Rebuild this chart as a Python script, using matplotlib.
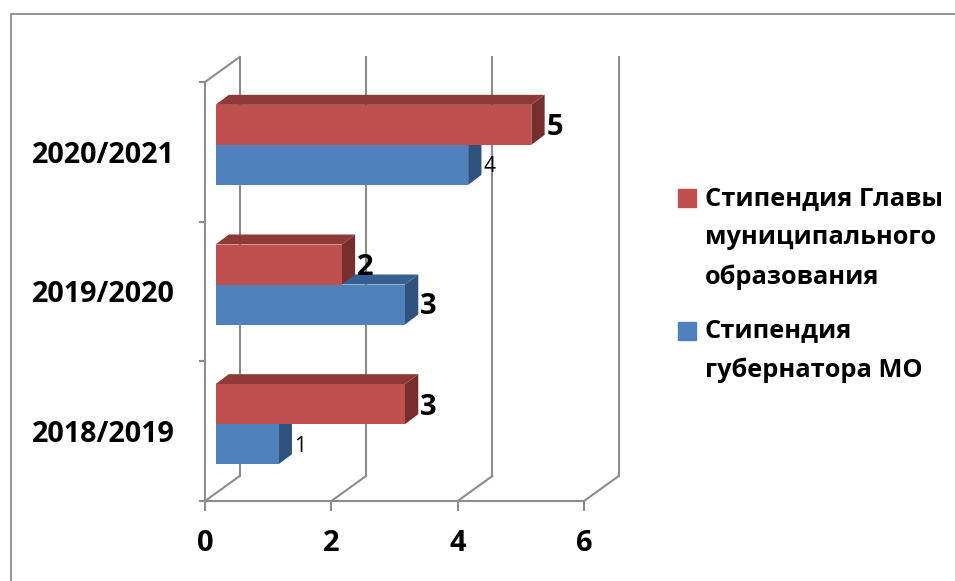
import matplotlib
matplotlib.use("Agg")
import matplotlib.pyplot as plt
from matplotlib.patches import Patch, Rectangle
from matplotlib.legend_handler import HandlerPatch
from matplotlib.transforms import Affine2D
from matplotlib.lines import Line2D

plt.rcParams['font.family'] = ['Open Sans', 'DejaVu Sans']

categories = ['2018/2019', '2019/2020', '2020/2021']
governor = [1, 3, 4]
head = [3, 2, 5]
series_names = ['Стипендия Главы\nмуниципального\nобразования', 'Стипендия\nгубернатора МО']
x_ticks = [0, 2, 4, 6]
GRID = '#8c8c8c'
RED, RED_TOP, RED_SIDE = '#c0504d', '#8e3a38', '#772e2c'
BLUE, BLUE_TOP, BLUE_SIDE = '#4f81bd', '#365f91', '#30527f'

W, H = 955, 581
fig = plt.figure(figsize=(W / 100, H / 100), dpi=100)
ax = fig.add_axes([205 / W, (H - 501) / H, 379 / W, 419 / H])
ax.set_xlim(0, 6)
ax.set_ylim(0, 3)
ax.patch.set_alpha(0)

# outer frame of the picture
for xs, ys in [((10.5, 955), (14, 14)), ((10.5, 10.5), (14, 581))]:
    fig.add_artist(Line2D([x / W for x in xs], [1 - y / H for y in ys], color='#8c8c8c', lw=1.3))

wall = ax.transData + Affine2D().translate(34.7, 25)
bar_front = ax.transData + Affine2D().translate(10.5, 7)
dx, dy = 13.3, 10

# back wall and floor
for t in x_ticks:
    ax.plot([t, t], [0, 3], color=GRID, lw=1.5, transform=wall, clip_on=False, zorder=1)
    a = ax.transData.transform((t, 0))
    ax.add_line(Line2D([a[0], a[0] + 34.7], [a[1], a[1] + 25], color=GRID, lw=1.5,
                       transform=None, zorder=1, clip_on=False))
a = ax.transData.transform((0, 3))
ax.add_line(Line2D([a[0], a[0] + 34.7], [a[1], a[1] + 25], color=GRID, lw=1.5,
                   transform=None, zorder=1, clip_on=False))

BAR_H = 40 / (419 / 3)


def box(values, base, front, top, side, z):
    for i, v in enumerate(values):
        y0 = i + base
        y1 = y0 + BAR_H
        p = [bar_front.transform(q) for q in [(0, y0), (v, y0), (v, y1), (0, y1)]]
        ax.fill([p[3][0], p[2][0], p[2][0] + dx, p[3][0] + dx],
                [p[3][1], p[2][1], p[2][1] + dy, p[3][1] + dy],
                color=top, lw=0, transform=None, zorder=z, clip_on=False)
        ax.fill([p[1][0], p[2][0], p[2][0] + dx, p[1][0] + dx],
                [p[1][1], p[2][1], p[2][1] + dy, p[1][1] + dy],
                color=side, lw=0, transform=None, zorder=z, clip_on=False)
        ax.barh(y0 + BAR_H / 2, v, height=BAR_H, color=front, lw=0, transform=bar_front,
                clip_on=False, zorder=z + 0.1)


box(governor, 0.5 - BAR_H, BLUE, BLUE_TOP, BLUE_SIDE, 3)
box(head, 0.5, RED, RED_TOP, RED_SIDE, 4)

for i, v in enumerate(governor):
    size, weight = (15, 'normal') if v in (1, 4) else (21, 'bold')
    ax.annotate(str(v), xy=(v, i + 0.5 - BAR_H / 2), xycoords=bar_front, xytext=(15 * .72, -2 * .72),
                textcoords='offset points', va='center', ha='left', fontsize=size, fontweight=weight,
                annotation_clip=False, zorder=6)
for i, v in enumerate(head):
    ax.annotate(str(v), xy=(v, i + 0.5 + BAR_H / 2), xycoords=bar_front, xytext=(15 * .72, -3 * .72),
                textcoords='offset points', va='center', ha='left', fontsize=21, fontweight='bold',
                annotation_clip=False, zorder=6)

for s in ['top', 'right']:
    ax.spines[s].set_visible(False)
for s in ['left', 'bottom']:
    ax.spines[s].set_color(GRID)
    ax.spines[s].set_linewidth(1.5)
ax.set_xticks(x_ticks)
ax.set_xticklabels([str(t) for t in x_ticks], fontsize=21, fontweight='bold')
ax.set_yticks([0, 1, 2, 3])
ax.set_yticklabels([])
ax.set_yticks([0.5, 1.5, 2.5], minor=True)
ax.set_yticklabels(categories, minor=True, fontsize=20.7, fontweight='bold')
ax.tick_params(axis='x', length=7, width=1.5, color=GRID, pad=13)
ax.tick_params(axis='y', which='major', length=4.5, width=1.5, color=GRID)
ax.tick_params(axis='y', which='minor', length=0, pad=21.5)


def shifted(shift):
    def make(legend, orig_handle, xdescent, ydescent, width, height, fontsize):
        return Rectangle((-xdescent, -ydescent + shift), width, height)
    return HandlerPatch(patch_func=make)


handles = [Patch(color=RED), Patch(color=BLUE)]
fig.legend(handles, series_names, loc='upper left', bbox_to_anchor=(678 / W, 1 - 186 / H),
           frameon=False, prop={'size': 18.3, 'weight': 'bold'}, handlelength=0.71, handleheight=0.71,
           handletextpad=0.35, labelspacing=1.09, borderpad=0, borderaxespad=0,
           handler_map={handles[0]: shifted(29.2), handles[1]: shifted(14.6)})
for t in fig.legends[0].get_texts():
    t.set_linespacing(1.75)

fig.savefig('out.png', dpi=100)
